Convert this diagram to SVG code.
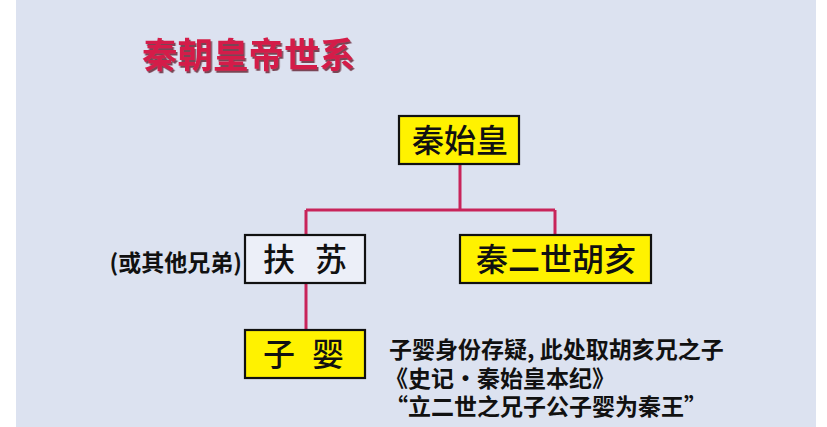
<svg xmlns="http://www.w3.org/2000/svg" width="827" height="427" viewBox="0 0 827 427">
<defs>
<filter id="sh" x="-5%" y="-20%" width="115%" height="150%">
<feDropShadow dx="1.5" dy="2" stdDeviation="0.6" flood-color="#5a1020" flood-opacity="0.75"/>
</filter>
<style>
.bg{fill:#dce2f0}
.box{stroke:#111;stroke-width:2.2}
.y{fill:#fff200}
.w{fill:#eceff8}
.nt{font-family:"Noto Sans CJK SC","Noto Sans CJK JP",sans-serif;font-size:32px;fill:#111;text-anchor:middle;font-weight:500}
.lb{font-family:"Noto Sans CJK SC","Noto Sans CJK JP",sans-serif;font-size:23px;fill:#111;font-weight:bold}
.title{font-family:"Noto Sans CJK SC","Noto Sans CJK JP",sans-serif;font-size:35.5px;fill:#d41f48;font-weight:bold}
.conn{stroke:#c8245a;stroke-width:3;fill:none}
</style>
</defs>
<rect x="0" y="0" width="827" height="427" fill="#ffffff"/>
<rect class="bg" x="16" y="0" width="800" height="427"/>
<text class="title" x="142" y="68" filter="url(#sh)">秦朝皇帝世系</text>
<g id="connectors">
<path class="conn" d="M460 164 V210 M306 210 H555 M306 210 V235 M555 210 V235 M306 283 V330"/>
</g>
<g id="node-qinshihuang">
<rect class="box y" x="399" y="116" width="120" height="48"/>
<text class="nt" x="460" y="152">秦始皇</text>
</g>
<g id="node-fusu">
<rect class="box w" x="245" y="235" width="120" height="48"/>
<text class="nt" y="271"><tspan x="279">扶</tspan><tspan x="331">苏</tspan></text>
</g>
<g id="node-huhai">
<rect class="box y" x="460" y="235" width="191" height="48"/>
<text class="nt" x="556" y="271">秦二世胡亥</text>
</g>
<g id="node-ziying">
<rect class="box y" x="245" y="330" width="120" height="48"/>
<text class="nt" y="366"><tspan x="279">子</tspan><tspan x="328">婴</tspan></text>
</g>
<text class="lb" x="242" y="271" text-anchor="end">(或其他兄弟)</text>
<g id="note">
<text class="lb"><tspan x="389" y="358">子婴身份存疑, 此处取胡亥兄之子</tspan><tspan x="385" y="387">《史记・秦始皇本纪》</tspan><tspan x="385" y="415">“立二世之兄子公子婴为秦王”</tspan></text>
</g>
</svg>
